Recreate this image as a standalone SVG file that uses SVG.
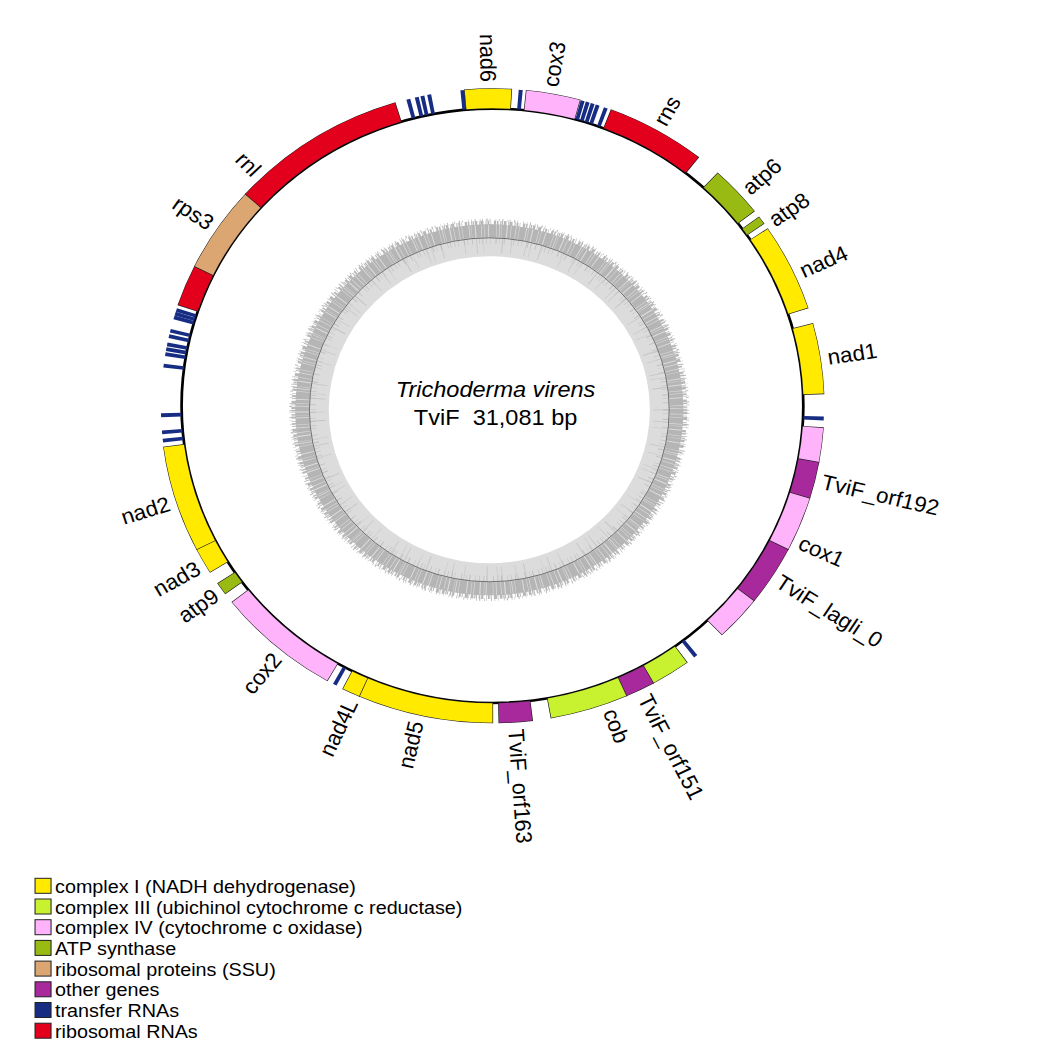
<svg xmlns="http://www.w3.org/2000/svg" width="1062" height="1062" viewBox="0 0 1062 1062">
<style>
.o{fill:none;stroke:#1e1e1e;stroke-width:20.5}
.f{fill:none;stroke-width:19.5}
.t{fill:none;stroke:#172d84;stroke-width:19.5}
.c1{stroke:#ffea00}.c3{stroke:#c8f230}.c4{stroke:#ffb3fb}.atp{stroke:#99ba12}.rp{stroke:#dba672}.oth{stroke:#a8299b}.rr{stroke:#e3001c}
.lbl{font-family:"Liberation Sans",Arial,sans-serif;font-size:21.5px;fill:#000}
.lg{font-family:"Liberation Sans",Arial,sans-serif;font-size:18.9px;fill:#000}
.gc{fill:none}
</style>
<rect width="1062" height="1062" fill="#fff"/>
<g transform="scale(1.046,1)">
<g transform="translate(470.8,405.8)">
<g id="gc-content" transform="translate(-3,4)">
<circle class="gc" r="169.5" stroke="#dcdcdc" stroke-width="32"/>
<circle class="gc" r="179" stroke="#b5b5b5" stroke-width="13" stroke-dasharray="4 0.7 2.5 0.5 6 0.8 1.5 0.4 3 1 5 0.6 2 0.5 3.5 0.9 7 0.5 2.2 0.7 1.3 0.4 4.5 1.1 2.8 0.6"/>
<circle class="gc" r="187" stroke="#b8b8b8" stroke-width="4.5" stroke-dasharray="1.2 0.8 2.5 1.5 0.7 0.6 3 2 1 0.9 1.8 1.2 0.6 2.5 2.2 0.8 1.5 1.7 0.9 0.5"/>
<circle class="gc" r="190" stroke="#bdbdbd" stroke-width="2.5" stroke-dasharray="0.6 2.5 1 4 0.5 1.5 0.8 3.5 1.2 2 0.7 5 0.5 2.8"/>
<circle class="gc" r="164.5" stroke="#c4c4c4" stroke-width="15" stroke-dasharray="0.5 11 0.7 6 0.4 17 0.9 8 0.5 13 0.6 4 0.5 9 0.8 21"/>
<circle class="gc" r="169" stroke="#c0c0c0" stroke-width="6" stroke-dasharray="0.6 3 0.5 5 1 2.5 0.4 4 0.8 6 0.5 2 0.7 3.5"/>
<circle class="gc" r="172" stroke="#444" stroke-width="0.7"/>
</g>
<circle id="genome" r="297.2" fill="none" stroke="#000" stroke-width="2.6"/>
<g id="trnas">
<circle class="t" r="307.25" pathLength="360" stroke-dasharray="0.7 400" transform="rotate(186.95)"/>
<circle class="t" r="307.25" pathLength="360" stroke-dasharray="0.7 400" transform="rotate(189.05)"/>
<circle class="t" r="307.25" pathLength="360" stroke-dasharray="0.7 400" transform="rotate(189.95)"/>
<circle class="t" r="307.25" pathLength="360" stroke-dasharray="0.7 400" transform="rotate(190.85)"/>
<circle class="t" r="307.25" pathLength="360" stroke-dasharray="0.7 400" transform="rotate(192.35)"/>
<circle class="t" r="307.25" pathLength="360" stroke-dasharray="0.7 400" transform="rotate(193.35)"/>
<circle class="t" r="307.25" pathLength="360" stroke-dasharray="0.7 400" transform="rotate(195.85)"/>
<circle class="t" r="307.25" pathLength="360" stroke-dasharray="0.7 400" transform="rotate(196.55)"/>
<circle class="t" r="307.25" pathLength="360" stroke-dasharray="0.7 400" transform="rotate(197.25)"/>
<circle class="t" r="307.25" pathLength="360" stroke-dasharray="0.7 400" transform="rotate(173.35)"/>
<circle class="t" r="307.25" pathLength="360" stroke-dasharray="0.7 400" transform="rotate(174.85)"/>
<circle class="t" r="307.25" pathLength="360" stroke-dasharray="0.7 400" transform="rotate(177.95)"/>
<circle class="t" r="307.25" pathLength="360" stroke-dasharray="0.7 400" transform="rotate(254.95)"/>
<circle class="t" r="307.25" pathLength="360" stroke-dasharray="0.7 400" transform="rotate(256.45)"/>
<circle class="t" r="307.25" pathLength="360" stroke-dasharray="0.7 400" transform="rotate(257.45)"/>
<circle class="t" r="307.25" pathLength="360" stroke-dasharray="0.7 400" transform="rotate(258.65)"/>
<circle class="t" r="307.25" pathLength="360" stroke-dasharray="0.7 400" transform="rotate(264.45)"/>
<circle class="t" r="307.25" pathLength="360" stroke-dasharray="0.7 400" transform="rotate(-85.45)"/>
<circle class="t" r="307.25" pathLength="360" stroke-dasharray="0.7 400" transform="rotate(-74.55)"/>
<circle class="t" r="307.25" pathLength="360" stroke-dasharray="0.7 400" transform="rotate(-73.65)"/>
<circle class="t" r="307.25" pathLength="360" stroke-dasharray="0.7 400" transform="rotate(-72.75)"/>
<circle class="t" r="307.25" pathLength="360" stroke-dasharray="0.7 400" transform="rotate(-71.85)"/>
<circle class="t" r="307.25" pathLength="360" stroke-dasharray="0.7 400" transform="rotate(-70.35)"/>
<circle class="t" r="307.25" pathLength="360" stroke-dasharray="0.7 400" transform="rotate(1.95)"/>
<circle class="t" r="307.25" pathLength="360" stroke-dasharray="0.7 400" transform="rotate(51.85)"/>
<circle class="t" r="307.25" pathLength="360" stroke-dasharray="0.7 400" transform="rotate(118.05)"/>
</g>
<g id="rnl"><circle class="o" r="307.25" pathLength="360" transform="rotate(198.48)" stroke-dasharray="7.74 400"/><circle class="f rr" r="307.25" pathLength="360" transform="rotate(198.6)" stroke-dasharray="7.5 400"/></g>
<g id="rps3"><circle class="o" r="307.25" pathLength="360" transform="rotate(205.98)" stroke-dasharray="16.04 400"/><circle class="f rp" r="307.25" pathLength="360" transform="rotate(206.1)" stroke-dasharray="15.8 400"/></g>
<g id="rnl-2"><circle class="o" r="307.25" pathLength="360" transform="rotate(221.78)" stroke-dasharray="31.24 400"/><circle class="f rr" r="307.25" pathLength="360" transform="rotate(221.9)" stroke-dasharray="31 400"/></g>
<g id="rns"><circle class="o" r="307.25" pathLength="360" transform="rotate(-69.12)" stroke-dasharray="17.64 400"/><circle class="f rr" r="307.25" pathLength="360" transform="rotate(-69)" stroke-dasharray="17.4 400"/></g>
<g id="nad6"><circle class="o" r="307.25" pathLength="360" transform="rotate(265.08)" stroke-dasharray="8.34 400"/><circle class="f c1" r="307.25" pathLength="360" transform="rotate(265.2)" stroke-dasharray="8.1 400"/></g>
<g id="cox3"><circle class="o" r="307.25" pathLength="360" transform="rotate(-84.22)" stroke-dasharray="9.64 400"/><circle class="f c4" r="307.25" pathLength="360" transform="rotate(-84.1)" stroke-dasharray="9.4 400"/></g>
<g id="atp6"><circle class="o" r="307.25" pathLength="360" transform="rotate(-47.32)" stroke-dasharray="9.54 400"/><circle class="f atp" r="307.25" pathLength="360" transform="rotate(-47.2)" stroke-dasharray="9.3 400"/></g>
<g id="atp8"><circle class="o" r="307.25" pathLength="360" transform="rotate(-36.62)" stroke-dasharray="1.64 400"/><circle class="f atp" r="307.25" pathLength="360" transform="rotate(-36.5)" stroke-dasharray="1.4 400"/></g>
<g id="nad4"><circle class="o" r="307.25" pathLength="360" transform="rotate(-34.02)" stroke-dasharray="16.14 400"/><circle class="f c1" r="307.25" pathLength="360" transform="rotate(-33.9)" stroke-dasharray="15.9 400"/></g>
<g id="nad1"><circle class="o" r="307.25" pathLength="360" transform="rotate(-15.12)" stroke-dasharray="13.04 400"/><circle class="f c1" r="307.25" pathLength="360" transform="rotate(-15)" stroke-dasharray="12.8 400"/></g>
<g id="cox1"><circle class="o" r="307.25" pathLength="360" transform="rotate(3.88)" stroke-dasharray="6.54 400"/><circle class="f c4" r="307.25" pathLength="360" transform="rotate(4)" stroke-dasharray="6.3 400"/></g>
<g id="TviF_orf192"><circle class="o" r="307.25" pathLength="360" transform="rotate(10.18)" stroke-dasharray="6.94 400"/><circle class="f oth" r="307.25" pathLength="360" transform="rotate(10.3)" stroke-dasharray="6.7 400"/></g>
<g id="cox1-2"><circle class="o" r="307.25" pathLength="360" transform="rotate(16.88)" stroke-dasharray="10.24 400"/><circle class="f c4" r="307.25" pathLength="360" transform="rotate(17)" stroke-dasharray="10 400"/></g>
<g id="TviF_lagli_0"><circle class="o" r="307.25" pathLength="360" transform="rotate(26.88)" stroke-dasharray="11.24 400"/><circle class="f oth" r="307.25" pathLength="360" transform="rotate(27)" stroke-dasharray="11 400"/></g>
<g id="cox1-3"><circle class="o" r="307.25" pathLength="360" transform="rotate(37.88)" stroke-dasharray="8.44 400"/><circle class="f c4" r="307.25" pathLength="360" transform="rotate(38)" stroke-dasharray="8.2 400"/></g>
<g id="cob"><circle class="o" r="307.25" pathLength="360" transform="rotate(53.98)" stroke-dasharray="7.14 400"/><circle class="f c3" r="307.25" pathLength="360" transform="rotate(54.1)" stroke-dasharray="6.9 400"/></g>
<g id="TviF_orf151"><circle class="o" r="307.25" pathLength="360" transform="rotate(60.88)" stroke-dasharray="5.44 400"/><circle class="f oth" r="307.25" pathLength="360" transform="rotate(61)" stroke-dasharray="5.2 400"/></g>
<g id="cob-2"><circle class="o" r="307.25" pathLength="360" transform="rotate(66.08)" stroke-dasharray="13.84 400"/><circle class="f c3" r="307.25" pathLength="360" transform="rotate(66.2)" stroke-dasharray="13.6 400"/></g>
<g id="TviF_orf163"><circle class="o" r="307.25" pathLength="360" transform="rotate(82.98)" stroke-dasharray="5.99 400"/><circle class="f oth" r="307.25" pathLength="360" transform="rotate(83.1)" stroke-dasharray="5.75 400"/></g>
<g id="nad5"><circle class="o" r="307.25" pathLength="360" transform="rotate(89.88)" stroke-dasharray="23.94 400"/><circle class="f c1" r="307.25" pathLength="360" transform="rotate(90)" stroke-dasharray="23.7 400"/></g>
<g id="nad4L"><circle class="o" r="307.25" pathLength="360" transform="rotate(113.58)" stroke-dasharray="3.34 400"/><circle class="f c1" r="307.25" pathLength="360" transform="rotate(113.7)" stroke-dasharray="3.1 400"/></g>
<g id="cox2"><circle class="o" r="307.25" pathLength="360" transform="rotate(119.78)" stroke-dasharray="22.04 400"/><circle class="f c4" r="307.25" pathLength="360" transform="rotate(119.9)" stroke-dasharray="21.8 400"/></g>
<g id="atp9"><circle class="o" r="307.25" pathLength="360" transform="rotate(143.58)" stroke-dasharray="2.44 400"/><circle class="f atp" r="307.25" pathLength="360" transform="rotate(143.7)" stroke-dasharray="2.2 400"/></g>
<g id="nad3"><circle class="o" r="307.25" pathLength="360" transform="rotate(148.28)" stroke-dasharray="4.94 400"/><circle class="f c1" r="307.25" pathLength="360" transform="rotate(148.4)" stroke-dasharray="4.7 400"/></g>
<g id="nad2"><circle class="o" r="307.25" pathLength="360" transform="rotate(152.98)" stroke-dasharray="19.64 400"/><circle class="f c1" r="307.25" pathLength="360" transform="rotate(153.1)" stroke-dasharray="19.4 400"/></g>
<g id="labels">
<text class="lbl" transform="rotate(89.3) translate(-324 0)" dy="0.35em" text-anchor="end">nad6</text>
<text class="lbl" transform="rotate(-80.2) translate(324 0)" dy="0.35em">cox3</text>
<text class="lbl" transform="rotate(-60.5) translate(324 0)" dy="0.35em">rns</text>
<text class="lbl" transform="rotate(-41.7) translate(324 0)" dy="0.35em">atp6</text>
<text class="lbl" transform="rotate(-34.7) translate(324 0)" dy="0.35em">atp8</text>
<text class="lbl" transform="rotate(-24.5) translate(324 0)" dy="0.35em">nad4</text>
<text class="lbl" transform="rotate(-8.6) translate(324 0)" dy="0.35em">nad1</text>
<text class="lbl" transform="rotate(13.5) translate(324 0)" dy="0.35em">TviF_orf192</text>
<text class="lbl" transform="rotate(24.8) translate(324 0)" dy="0.35em">cox1</text>
<text class="lbl" transform="rotate(32.5) translate(324 0)" dy="0.35em">TviF_lagli_0</text>
<text class="lbl" transform="rotate(63.4) translate(324 0)" dy="0.35em">TviF_orf151</text>
<text class="lbl" transform="rotate(69.7) translate(324 0)" dy="0.35em">cob</text>
<text class="lbl" transform="rotate(86) translate(324 0)" dy="0.35em">TviF_orf163</text>
<text class="lbl" transform="rotate(283) translate(-324 0)" dy="0.35em" text-anchor="end">nad5</text>
<text class="lbl" transform="rotate(294.6) translate(-324 0)" dy="0.35em" text-anchor="end">nad4L</text>
<text class="lbl" transform="rotate(309.5) translate(-324 0)" dy="0.35em" text-anchor="end">cox2</text>
<text class="lbl" transform="rotate(324.6) translate(-324 0)" dy="0.35em" text-anchor="end">atp9</text>
<text class="lbl" transform="rotate(330.2) translate(-324 0)" dy="0.35em" text-anchor="end">nad3</text>
<text class="lbl" transform="rotate(342.5) translate(-324 0)" dy="0.35em" text-anchor="end">nad2</text>
<text class="lbl" transform="rotate(34) translate(-324 0)" dy="0.35em" text-anchor="end">rps3</text>
<text class="lbl" transform="rotate(46) translate(-324 0)" dy="0.35em" text-anchor="end">rnl</text>
</g>
</g>
<g id="title" font-family="'Liberation Sans',Arial,sans-serif" font-size="22.5" text-anchor="middle">
<text x="473.8" y="397" font-style="italic">Trichoderma virens</text>
<text x="473.8" y="425.5" style="white-space:pre">TviF  31,081 bp</text>
</g>
<g id="legend" stroke="#222" stroke-width="1">
<rect x="33.5" y="878.3" width="15.3" height="15" fill="#ffea00"/>
<rect x="33.5" y="899" width="15.3" height="15" fill="#c8f230"/>
<rect x="33.5" y="919.7" width="15.3" height="15" fill="#ffb3fb"/>
<rect x="33.5" y="940.4" width="15.3" height="15" fill="#99ba12"/>
<rect x="33.5" y="961.1" width="15.3" height="15" fill="#dba672"/>
<rect x="33.5" y="981.8" width="15.3" height="15" fill="#a8299b"/>
<rect x="33.5" y="1002.5" width="15.3" height="15" fill="#172d84"/>
<rect x="33.5" y="1023.2" width="15.3" height="15" fill="#e3001c"/>
</g>
<g id="legend-text">
<text class="lg" x="52.6" y="893">complex I (NADH dehydrogenase)</text>
<text class="lg" x="52.6" y="913.7">complex III (ubichinol cytochrome c reductase)</text>
<text class="lg" x="52.6" y="934.4">complex IV (cytochrome c oxidase)</text>
<text class="lg" x="52.6" y="955.1">ATP synthase</text>
<text class="lg" x="52.6" y="975.8">ribosomal proteins (SSU)</text>
<text class="lg" x="52.6" y="996.5">other genes</text>
<text class="lg" x="52.6" y="1017.2">transfer RNAs</text>
<text class="lg" x="52.6" y="1037.9">ribosomal RNAs</text>
</g>
</g>
</svg>
